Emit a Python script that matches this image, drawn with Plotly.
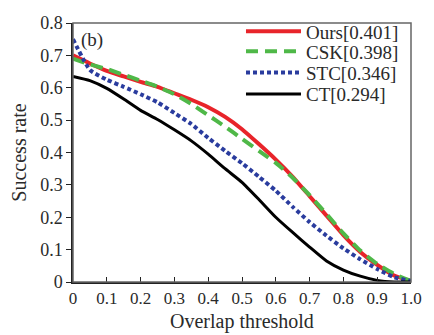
import plotly.graph_objects as go

thresholds = [0.0, 0.05, 0.1, 0.15, 0.2, 0.25, 0.3, 0.35, 0.4, 0.45, 0.5,
              0.55, 0.6, 0.65, 0.7, 0.75, 0.8, 0.85, 0.9, 0.95, 1.0]
ours = [0.700, 0.675, 0.652, 0.635, 0.618, 0.603, 0.583, 0.563, 0.540, 0.510, 0.472,
        0.426, 0.378, 0.325, 0.265, 0.205, 0.145, 0.093, 0.053, 0.020, 0.003]
csk = [0.690, 0.672, 0.658, 0.640, 0.622, 0.603, 0.580, 0.550, 0.515, 0.480, 0.442,
       0.405, 0.368, 0.322, 0.268, 0.210, 0.150, 0.097, 0.056, 0.025, 0.003]
stc = [0.750, 0.655, 0.625, 0.603, 0.580, 0.555, 0.522, 0.488, 0.445, 0.405, 0.367,
       0.325, 0.282, 0.232, 0.185, 0.143, 0.104, 0.070, 0.040, 0.015, 0.003]
ct = [0.635, 0.622, 0.598, 0.565, 0.530, 0.502, 0.470, 0.436, 0.395, 0.350, 0.308,
      0.255, 0.200, 0.153, 0.108, 0.065, 0.037, 0.018, 0.005, 0.000, 0.000]

names = ["Ours[0.401]", "CSK[0.398]", "STC[0.346]", "CT[0.294]"]
colors = ["#e8242a", "#4fb848", "#2a3c9e", "#000000"]
dashes = ["solid", "12px,7px", "4px,3px", "solid"]
widths = [4, 4, 4, 3]
series = [ours, csk, stc, ct]
legend_ids = ["legend", "legend2", "legend3", "legend4"]
legend_rows = [0.968, 0.890, 0.808, 0.725]

x_ticks = [0, 0.1, 0.2, 0.3, 0.4, 0.5, 0.6, 0.7, 0.8, 0.9, 1.0]
x_tick_text = ["0", "0.1", "0.2", "0.3", "0.4", "0.5", "0.6", "0.7", "0.8", "0.9", "1.0"]
y_ticks = [0, 0.1, 0.2, 0.3, 0.4, 0.5, 0.6, 0.7, 0.8]
y_tick_text = ["0", "0.1", "0.2", "0.3", "0.4", "0.5", "0.6", "0.7", "0.8"]
x_title = "Overlap threshold"
y_title = "Success rate"

FONT = "Liberation Serif, Times New Roman, serif"
TXT = "#2a2a2a"

fig = go.Figure()
for name, ys, c, d, w, lg in zip(names, series, colors, dashes, widths, legend_ids):
    fig.add_trace(go.Scatter(
        x=thresholds, y=ys, name=name, mode="lines", legend=lg,
        line=dict(color=c, dash=d, width=w, shape="spline", smoothing=0.5),
    ))

legends = {}
for lg, yr in zip(legend_ids, legend_rows):
    legends[lg] = dict(x=0.497, xanchor="left", y=yr, yanchor="middle",
                       bgcolor="rgba(0,0,0,0)", itemwidth=55, borderwidth=0,
                       font=dict(size=19, family=FONT, color=TXT))

fig.update_layout(
    width=434, height=335,
    margin=dict(l=73, r=17, t=13, b=53),
    paper_bgcolor="white", plot_bgcolor="white",
    font=dict(family=FONT, size=16, color=TXT),
    showlegend=True,
    xaxis=dict(range=[0, 1.0], tickvals=x_ticks, ticktext=x_tick_text,
               ticks="inside", ticklen=5, tickcolor="#222", showgrid=False,
               zeroline=False, showline=True, linecolor="#222", linewidth=1.5,
               tickfont=dict(size=17, family=FONT, color=TXT)),
    yaxis=dict(range=[0, 0.8], tickvals=y_ticks, ticktext=y_tick_text,
               ticks="outside", ticklen=5, tickcolor="#222", showgrid=False,
               zeroline=False, showline=True, linecolor="#222", linewidth=1.5,
               title=dict(text=y_title, font=dict(size=20, family=FONT, color=TXT), standoff=8),
               tickfont=dict(size=18, family=FONT, color=TXT)),
    shapes=[dict(type="rect", xref="paper", yref="paper", x0=0, y0=0, x1=1, y1=1,
                 line=dict(color="#666", width=1.5), fillcolor="rgba(0,0,0,0)")],
    annotations=[
        dict(text="(b)", xref="paper", yref="paper", x=0.018, y=0.985,
             xanchor="left", yanchor="top", showarrow=False,
             font=dict(size=19, family=FONT, color=TXT)),
        dict(text=x_title, xref="paper", yref="paper", x=0.5, y=0,
             xanchor="center", yanchor="top", yshift=-26, showarrow=False,
             font=dict(size=20, family=FONT, color=TXT)),
    ],
    **legends,
)

fig.write_html("out.html", config={"displayModeBar": False},
               post_script="document.body.style.margin='0';")
